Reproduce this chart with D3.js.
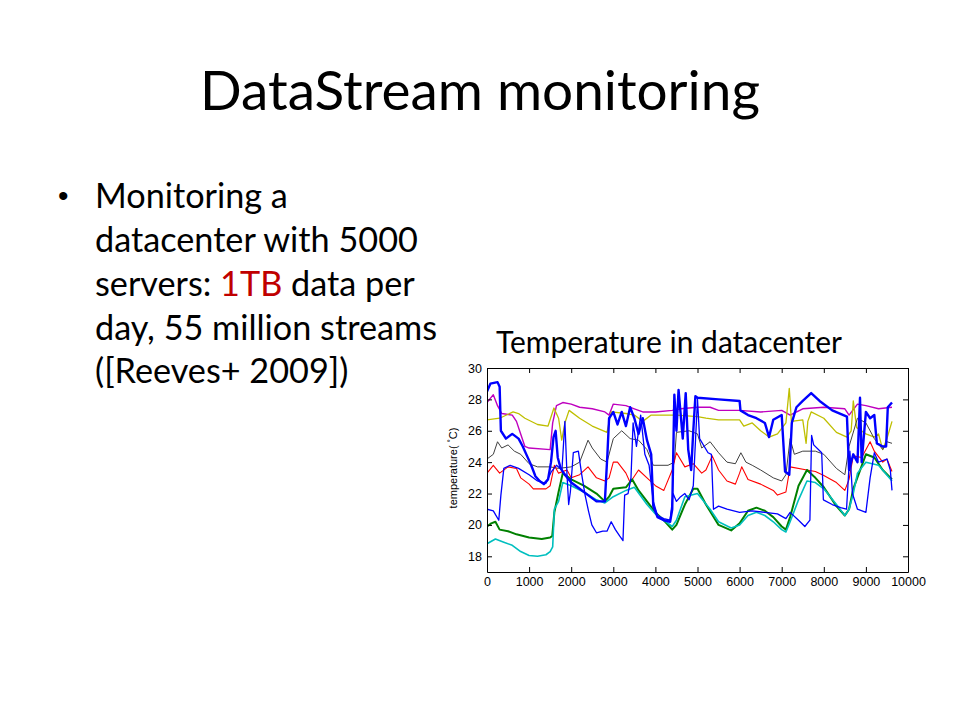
<!DOCTYPE html>
<html>
<head>
<meta charset="utf-8">
<script src="https://cdn.jsdelivr.net/npm/d3@7"></script>
<style>
  html, body { margin: 0; padding: 0; background: #fff; }
  svg { display: block; }
</style>
</head>
<body>
<div id="slide"></div>
<script>
// ---- data ----
const xTicks = [0, 1000, 2000, 3000, 4000, 5000, 6000, 7000, 8000, 9000, 10000];
const yTicks = [18, 20, 22, 24, 26, 28, 30];

const magenta = [[0,27.8],[150,28.3],[250,27.6],[350,27.1],[600,27.0],[700,26.6],[800,25.8],[900,25.0],[1000,24.9],[1500,24.8],[1560,26.5],[1650,27.6],[1800,27.8],[2000,27.7],[2200,27.5],[2500,27.4],[2800,27.2],[2900,27.0],[3000,27.7],[3300,27.6],[3500,27.4],[3700,27.2],[4000,27.2],[4400,27.3],[4600,27.4],[5000,27.5],[5300,27.5],[5500,27.3],[6000,27.3],[6500,27.2],[7000,27.3],[7200,27.0],[7500,27.4],[8000,27.5],[8500,27.4],[8600,27.0],[8800,27.7],[9000,27.6],[9300,27.4],[9620,27.5]];

const yellow = [[0,26.7],[300,26.8],[620,27.2],[750,27.1],[900,26.8],[1200,26.4],[1450,26.3],[1590,27.45],[1700,26.8],[1775,25.4],[1850,26.5],[1950,27.3],[2200,26.8],[2500,26.3],[2850,25.9],[2950,27.2],[3300,27.1],[3500,27.0],[3700,26.6],[3900,27.0],[4500,27.0],[5000,26.9],[5200,26.8],[5500,26.7],[6000,26.7],[6100,26.3],[6300,26.5],[6500,26.0],[6700,25.6],[6900,25.8],[7100,26.5],[7180,28.7],[7230,26.6],[7500,26.7],[7580,25.2],[7620,26.6],[7700,27.2],[8000,26.8],[8300,25.9],[8550,25.6],[8650,26.0],[8700,27.9],[8780,26.2],[9000,25.8],[9200,25.6],[9300,25.8],[9400,24.8],[9500,25.5],[9620,26.6]];

const gray = [[0,24.2],[150,24.5],[250,25.3],[350,24.9],[500,25.1],[650,24.7],[800,24.5],[1000,23.9],[1200,23.7],[1500,23.7],[1700,23.6],[2000,23.7],[2200,24.0],[2400,25.4],[2500,24.9],[2700,24.2],[2850,24.0],[3000,25.5],[3200,26.0],[3400,25.5],[3600,25.4],[3800,24.8],[3950,23.8],[4300,23.8],[4450,24.0],[4500,25.9],[4800,26.0],[5000,25.8],[5100,24.9],[5300,25.3],[5500,24.6],[5700,24.0],[5900,23.9],[6030,24.6],[6150,24.0],[6300,23.8],[6500,23.5],[6800,23.0],[7000,22.8],[7100,23.2],[7200,25.5],[7300,24.5],[7500,24.7],[7800,24.7],[8000,24.5],[8300,23.6],[8500,23.2],[8600,25.0],[8800,26.8],[9000,26.5],[9200,25.5],[9400,24.8],[9500,25.3],[9620,25.2]];

const red = [[0,23.3],[150,23.8],[300,23.3],[500,23.7],[700,23.6],[800,23.0],[1000,22.6],[1100,22.3],[1400,22.3],[1500,22.5],[1600,23.8],[1700,23.3],[1900,23.5],[2000,23.0],[2200,23.2],[2400,23.7],[2600,23.0],[2800,22.8],[2900,23.0],[3000,24.0],[3100,24.0],[3300,23.3],[3400,22.7],[3600,23.5],[3800,23.0],[4000,22.5],[4200,22.2],[4400,23.5],[4500,24.6],[4700,23.7],[4900,23.9],[5100,23.3],[5200,23.5],[5350,24.4],[5500,23.5],[5700,22.8],[5900,22.6],[6000,23.3],[6050,23.7],[6200,22.9],[6500,22.6],[6800,22.2],[6900,21.9],[7100,22.1],[7200,23.7],[7600,23.5],[7800,23.4],[8000,23.15],[8300,22.7],[8500,22.2],[8600,22.9],[8700,24.4],[8900,24.3],[9100,25.3],[9200,24.7],[9400,24.0],[9500,24.2],[9620,23.4]];

const green = [[0,19.9],[100,20.1],[200,20.2],[300,19.7],[500,19.6],[700,19.4],[1000,19.2],[1300,19.1],[1500,19.2],[1550,19.3],[1600,20.8],[1700,22.1],[1800,23.3],[2000,22.9],[2300,22.5],[2600,22.0],[2800,21.5],[2900,21.8],[3000,22.3],[3300,22.4],[3450,22.9],[3600,22.2],[3800,21.5],[4000,20.8],[4200,20.3],[4400,19.7],[4500,20.0],[4700,21.3],[4900,22.3],[5000,22.3],[5200,21.3],[5500,20.0],[5800,19.65],[6000,20.1],[6200,20.9],[6400,21.1],[6600,20.9],[6800,20.5],[7000,19.9],[7100,19.7],[7200,20.5],[7400,22.5],[7600,23.5],[7800,23.0],[8000,22.4],[8300,21.2],[8500,20.6],[8600,21.0],[8700,22.3],[9000,24.5],[9200,24.3],[9400,23.5],[9620,22.9]];

const cyan = [[0,18.8],[200,19.1],[400,18.9],[600,18.7],[800,18.3],[1000,18.05],[1200,18.0],[1400,18.1],[1500,18.3],[1560,18.6],[1600,21.0],[1700,21.5],[1800,22.7],[2000,22.5],[2300,22.1],[2600,21.6],[2800,21.4],[3000,21.8],[3300,22.2],[3500,22.4],[3800,21.3],[4000,20.7],[4200,20.3],[4400,19.9],[4500,20.3],[4700,21.8],[5000,22.0],[5300,21.0],[5500,20.2],[5800,19.8],[6000,20.0],[6200,20.6],[6400,20.8],[6600,20.6],[6800,20.2],[7000,19.7],[7100,19.55],[7200,20.2],[7400,21.6],[7600,22.8],[7800,22.7],[8000,22.3],[8300,21.3],[8500,20.6],[8600,21.0],[8700,22.0],[8800,23.3],[9000,24.0],[9300,23.8],[9620,22.8]];

const blueThin = [[0,21.0],[150,20.9],[280,20.3],[330,21.9],[400,23.6],[550,23.8],[750,23.6],[1000,23.2],[1200,22.8],[1400,22.65],[1530,23.4],[1650,23.8],[1780,23.5],[1850,26.6],[1900,23.2],[1940,21.3],[1980,22.1],[2050,24.6],[2170,24.7],[2250,23.2],[2330,21.9],[2410,20.9],[2490,20.0],[2600,19.5],[2750,19.6],[2850,19.6],[2950,20.2],[3050,19.7],[3150,19.3],[3230,19.0],[3270,21.9],[3350,22.0],[3420,23.0],[3470,26.5],[3550,25.0],[3650,27.0],[3750,24.5],[3850,23.8],[3950,21.5],[4050,20.6],[4200,20.4],[4350,20.3],[4420,22.0],[4500,21.5],[4600,21.8],[4700,22.0],[4800,21.6],[4900,22.5],[5000,28.0],[5050,25.5],[5250,24.6],[5330,24.5],[5380,21.0],[5500,21.2],[5700,21.0],[6000,20.8],[6300,20.9],[6600,20.8],[6900,20.7],[7100,20.4],[7200,20.8],[7400,20.3],[7550,19.9],[7670,20.3],[7710,25.7],[7760,25.1],[7950,24.6],[7990,21.6],[8200,21.3],[8400,21.1],[8540,21.0],[8620,24.7],[8680,22.0],[8800,21.0],[9000,20.8],[9100,23.0],[9200,24.6],[9300,24.0],[9500,24.2],[9580,23.5],[9620,22.2]];

const blueThick = [[0,28.5],[80,29.0],[250,29.1],[300,28.8],[330,26.0],[450,25.5],[600,25.8],[750,25.5],[850,25.0],[950,24.4],[1050,23.8],[1150,23.1],[1250,22.8],[1350,22.6],[1450,22.9],[1520,24.0],[1580,25.6],[1630,26.0],[1680,24.3],[1750,23.6],[1850,23.2],[2000,22.7],[2200,22.3],[2400,21.9],[2600,21.5],[2800,21.5],[2860,24.5],[2900,26.8],[3000,27.2],[3100,26.4],[3200,27.2],[3300,26.3],[3400,27.5],[3500,26.8],[3600,25.8],[3700,26.8],[3800,25.4],[3900,24.5],[3950,21.2],[4050,20.5],[4200,20.3],[4350,20.2],[4400,21.0],[4450,28.3],[4500,26.0],[4550,28.6],[4650,25.5],[4720,28.4],[4780,24.8],[4850,23.5],[4900,26.0],[4950,28.2],[5000,28.1],[5500,28.0],[6000,27.9],[6020,27.3],[6200,27.0],[6400,26.8],[6600,26.5],[6700,25.6],[6800,26.7],[7000,27.0],[7080,23.4],[7180,23.2],[7240,26.5],[7350,27.5],[7500,27.9],[7700,28.4],[7900,27.9],[8200,27.3],[8550,26.9],[8600,23.5],[8700,24.5],[8800,24.0],[8860,28.1],[8900,24.0],[9000,27.2],[9100,26.8],[9200,27.0],[9260,25.2],[9400,25.0],[9480,25.0],[9520,27.5],[9620,27.8]];

const bulletLines = ["Monitoring a", "datacenter with 5000", "servers: ", "day, 55 million streams", "([Reeves+ 2009])"];

// ---- slide ----
const W = 960, H = 720;
const svg = d3.select("#slide").append("svg").attr("width", W).attr("height", H);

const slideFont = "Lato, 'Open Sans', sans-serif";

// size a text so its rendered width hits a target width
function fitWidth(sel, target) {
    const w = sel.node().getComputedTextLength();
    const fs = parseFloat(sel.attr("font-size"));
    sel.attr("font-size", fs * target / w);
}

const title = svg.append("text")
    .attr("x", 480).attr("y", 110)
    .attr("text-anchor", "middle")
    .attr("font-family", slideFont)
    .attr("font-size", 56)
    .attr("fill", "#000")
    .text("DataStream monitoring");
fitWidth(title, 560);

svg.append("text")
    .attr("x", 58).attr("y", 206)
    .attr("font-family", "Arial, sans-serif")
    .attr("font-size", 30)
    .text("•");

const lineY = [208, 252, 296, 340, 383];
const bullet = svg.append("g").attr("font-family", slideFont).attr("fill", "#000");
const probe = bullet.append("text").attr("font-size", 32).text(bulletLines[3]);
fitWidth(probe, 342);
const bulletSize = probe.attr("font-size");
probe.remove();

bulletLines.forEach((t, i) => {
    const txt = bullet.append("text")
        .attr("x", 95).attr("y", lineY[i])
        .attr("font-size", bulletSize);
    if (i === 2) {
        txt.append("tspan").text(t);
        txt.append("tspan").attr("fill", "#c00000").text("1TB");
        txt.append("tspan").text(" data per");
    } else {
        txt.text(t);
    }
});

const sub = svg.append("text")
    .attr("x", 496).attr("y", 353)
    .attr("font-family", slideFont)
    .attr("font-size", 26)
    .text("Temperature in datacenter");
fitWidth(sub, 346);

// ---- chart ----
const plotLeft = 487, plotRight = 908, plotTop = 368, plotBottom = 572;

const x = d3.scaleLinear().domain([0, 10000]).range([plotLeft, plotRight]);
const y = d3.scaleLinear().domain([17, 30]).range([plotBottom, plotTop]);

svg.append("defs").append("clipPath").attr("id", "plotclip")
    .append("rect")
    .attr("x", plotLeft).attr("y", plotTop)
    .attr("width", plotRight - plotLeft).attr("height", plotBottom - plotTop);

const line = d3.line().x(d => x(d[0])).y(d => y(d[1]));

const series = [
    { data: magenta, color: "#bf00bf", width: 1.4 },
    { data: yellow, color: "#bfbf00", width: 1.3 },
    { data: gray, color: "#404040", width: 1.0 },
    { data: red, color: "#ff0000", width: 1.1 },
    { data: green, color: "#008000", width: 2.0 },
    { data: cyan, color: "#00bfbf", width: 1.6 },
    { data: blueThin, color: "#0000ff", width: 1.3 },
    { data: blueThick, color: "#0000ff", width: 2.4 }
];

const plot = svg.append("g").attr("clip-path", "url(#plotclip)");
plot.selectAll("path")
    .data(series)
    .enter()
    .append("path")
    .attr("d", d => line(d.data))
    .attr("fill", "none")
    .attr("stroke", d => d.color)
    .attr("stroke-width", d => d.width)
    .attr("stroke-linejoin", "round");

const tickFont = "'Liberation Sans', Arial, sans-serif";

svg.append("g")
    .attr("transform", `translate(0,${plotBottom})`)
    .call(d3.axisBottom(x).tickValues(xTicks).tickFormat(d3.format("d"))
        .tickSizeInner(-5).tickSizeOuter(0).tickPadding(5));
svg.append("g")
    .attr("transform", `translate(${plotLeft},0)`)
    .call(d3.axisLeft(y).tickValues(yTicks)
        .tickSizeInner(-5).tickSizeOuter(0).tickPadding(5));
svg.append("g")
    .attr("transform", `translate(0,${plotTop})`)
    .call(d3.axisTop(x).tickValues(xTicks).tickFormat("")
        .tickSizeInner(-5).tickSizeOuter(0));
svg.append("g")
    .attr("transform", `translate(${plotRight},0)`)
    .call(d3.axisRight(y).tickValues(yTicks).tickFormat("")
        .tickSizeInner(-5).tickSizeOuter(0));

svg.selectAll(".tick text")
    .attr("font-family", tickFont)
    .attr("font-size", 12.5)
    .attr("fill", "#000");
svg.selectAll(".domain, .tick line").attr("stroke", "#000");

// y axis title
const ylab = svg.append("text")
    .attr("transform", `translate(457,${(plotTop + plotBottom) / 2 - 2}) rotate(-90)`)
    .attr("text-anchor", "middle")
    .attr("font-family", tickFont)
    .attr("font-size", 11)
    .attr("fill", "#000");
ylab.append("tspan").text("temperature( ");
ylab.append("tspan").attr("dy", -4).attr("font-size", 8).text("°");
ylab.append("tspan").attr("dy", 4).text("C)");
</script>
</body>
</html>
